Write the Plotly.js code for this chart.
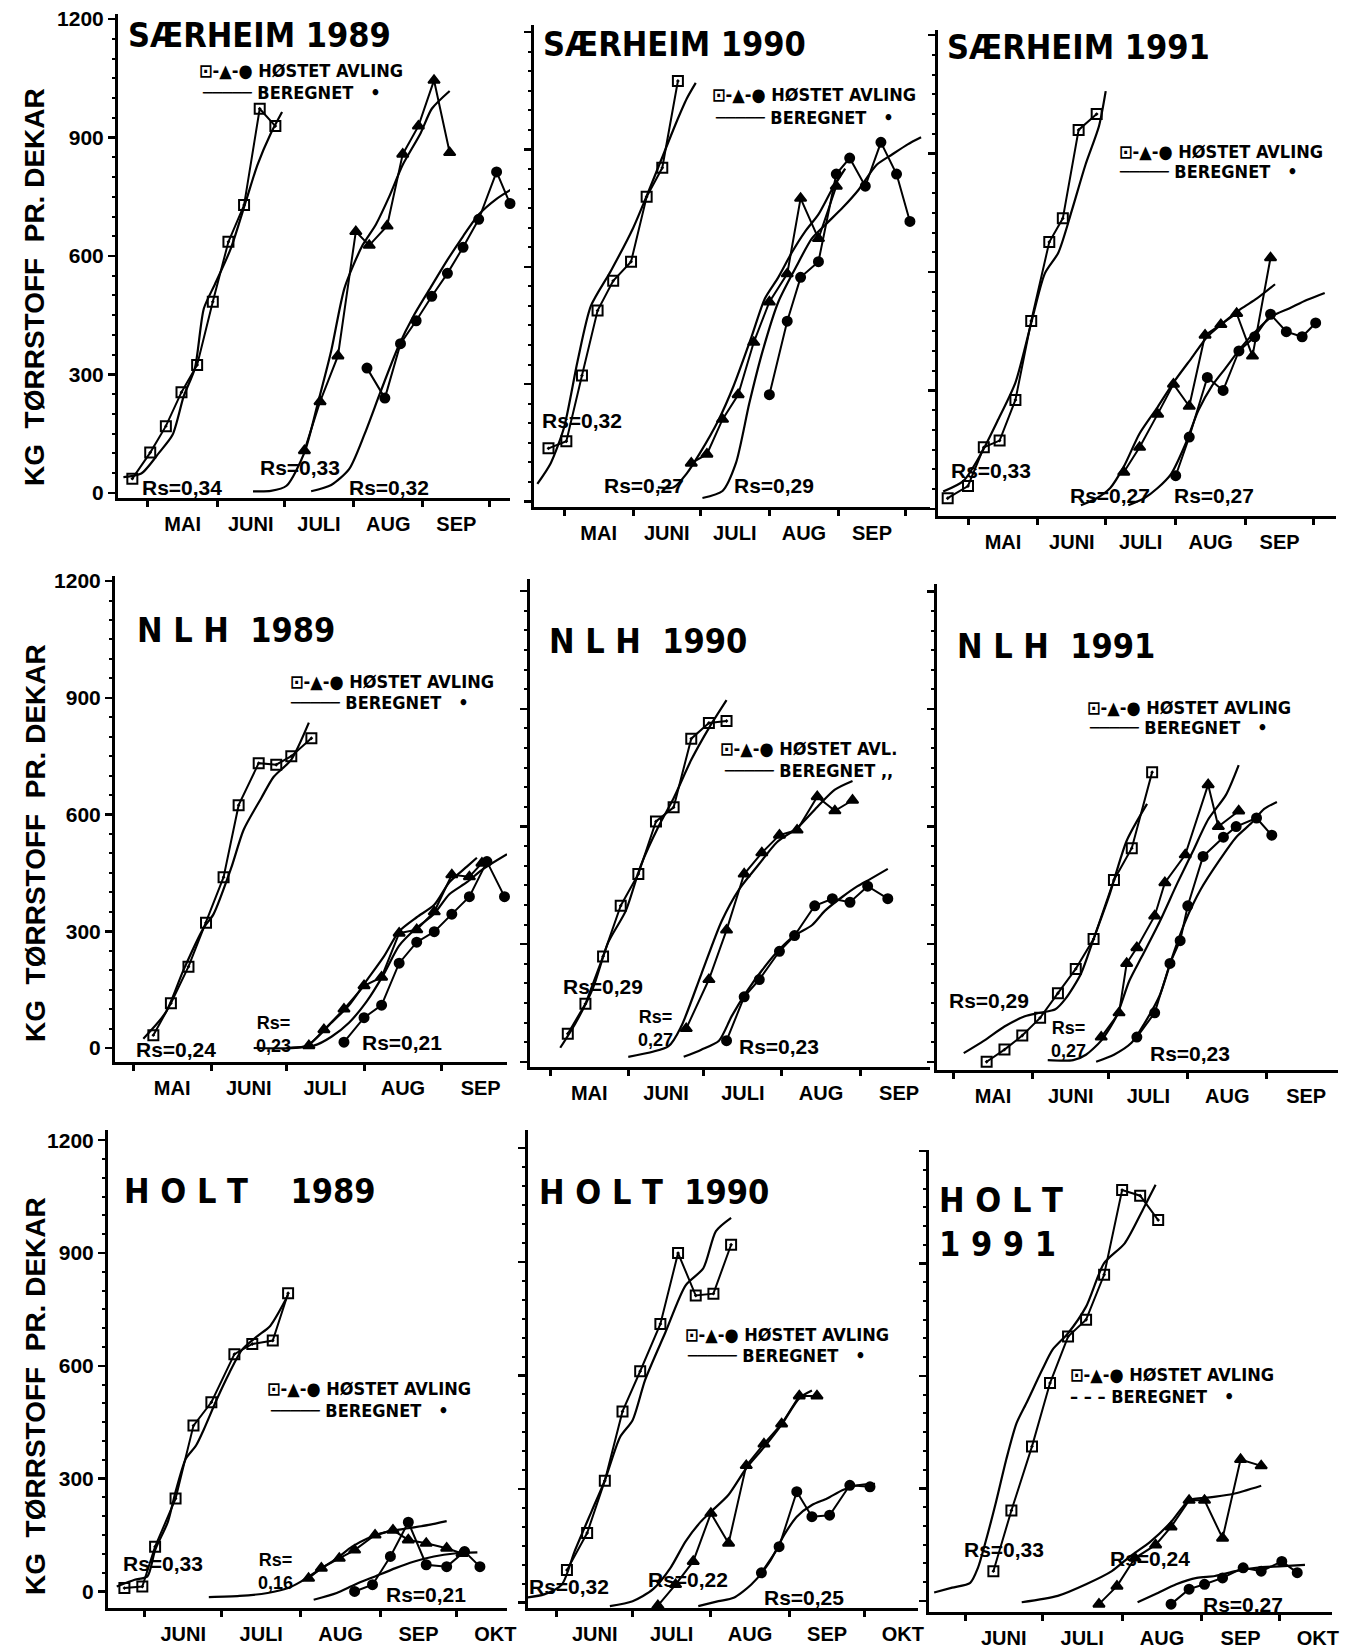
<!DOCTYPE html>
<html><head><meta charset="utf-8">
<script src="https://cdn.plot.ly/plotly-3.0.1.min.js"></script>
<style>html,body{margin:0;padding:0;background:#fff}#chart{width:1349px;height:1652px}</style>
</head><body><div id="chart"></div>
<script>
// ---------------- DATA (date, kg tørrstoff pr. dekar) ----------------
// SÆRHEIM 1989
const S89_sq=[['1989-04-24',36],['1989-05-02',102],['1989-05-09',169],['1989-05-16',255],['1989-05-23',324],['1989-05-30',484],['1989-06-06',636],['1989-06-13',729],['1989-06-20',973],['1989-06-27',929]];
const S89_c1=[['1989-04-20',40],['1989-04-28',49],['1989-05-06',102],['1989-05-12',147],['1989-05-17',245],['1989-05-22',316],['1989-05-26',467],['1989-05-31',529],['1989-06-07',618],['1989-06-14',742],['1989-06-19',831],['1989-06-25',911],['1989-06-30',965]];
const S89_tr=[['1989-07-10',107],['1989-07-17',231],['1989-07-25',347],['1989-08-02',662],['1989-08-08',627],['1989-08-16',676],['1989-08-23',858],['1989-08-30',929],['1989-09-06',1045],['1989-09-13',862]];
const S89_c2=[['1989-06-17',4],['1989-06-25',5],['1989-07-02',18],['1989-07-10',102],['1989-07-16',227],['1989-07-22',360],['1989-07-28',520],['1989-08-05',627],['1989-08-11',680],['1989-08-17',751],['1989-08-23',831],['1989-08-31',911],['1989-09-05',973],['1989-09-13',1018]];
const S89_ci=[['1989-08-07',316],['1989-08-15',240],['1989-08-22',378],['1989-08-29',436],['1989-09-05',498],['1989-09-12',556],['1989-09-19',622],['1989-09-26',693],['1989-10-04',813],['1989-10-10',733]];
const S89_c3=[['1989-07-13',4],['1989-07-22',20],['1989-07-30',60],['1989-08-06',150],['1989-08-13',255],['1989-08-21',370],['1989-08-28',450],['1989-09-05',525],['1989-09-12',590],['1989-09-19',650],['1989-09-26',705],['1989-10-04',745],['1989-10-11',770]];
// SÆRHEIM 1990
const S90_sq=[['1990-04-24',136],['1990-05-02',154],['1990-05-09',322],['1990-05-16',488],['1990-05-23',564],['1990-05-31',613],['1990-06-07',779],['1990-06-14',853],['1990-06-21',1075]];
const S90_c1=[['1990-04-19',45],['1990-04-25',98],['1990-05-01',190],['1990-05-07',358],['1990-05-13',500],['1990-05-22',590],['1990-06-01',700],['1990-06-08',795],['1990-06-14',880],['1990-06-20',965],['1990-06-25',1030],['1990-06-29',1070]];
const S90_tr=[['1990-06-27',98],['1990-07-04',121],['1990-07-11',210],['1990-07-18',273],['1990-07-25',407],['1990-08-01',510],['1990-08-09',582],['1990-08-15',775],['1990-08-23',672],['1990-08-31',806]];
const S90_c2=[['1990-06-12',36],['1990-06-19',36],['1990-06-25',72],['1990-07-01',125],['1990-07-09',206],['1990-07-16',296],['1990-07-24',421],['1990-07-30',519],['1990-08-05',573],['1990-08-11',636],['1990-08-17',690],['1990-08-23',734],['1990-08-29',797],['1990-09-04',851]];
const S90_ci=[['1990-08-01',273],['1990-08-09',461],['1990-08-15',573],['1990-08-23',613],['1990-08-31',837],['1990-09-06',878],['1990-09-13',806],['1990-09-20',918],['1990-09-27',837],['1990-10-03',716]];
const S90_c3=[['1990-07-02',9],['1990-07-11',27],['1990-07-17',98],['1990-07-23',251],['1990-07-29',385],['1990-08-05',510],['1990-08-13',600],['1990-08-20',672],['1990-08-26',707],['1990-09-03',752],['1990-09-10',797],['1990-09-18',860],['1990-09-25',887],['1990-10-02',913],['1990-10-08',931]];
// SÆRHEIM 1991
const S91_sq=[['1991-04-22',27],['1991-05-01',58],['1991-05-08',156],['1991-05-15',173],['1991-05-22',276],['1991-05-29',476],['1991-06-06',676],['1991-06-12',736],['1991-06-19',960],['1991-06-27',1000]];
const S91_c1=[['1991-04-20',44],['1991-04-29',71],['1991-05-07',142],['1991-05-14',222],['1991-05-22',320],['1991-05-29',471],['1991-06-04',596],['1991-06-10',649],['1991-06-16',756],['1991-06-22',871],['1991-06-28',969],['1991-07-01',1058]];
const S91_tr=[['1991-07-09',93],['1991-07-16',156],['1991-07-24',240],['1991-07-31',316],['1991-08-07',260],['1991-08-14',440],['1991-08-21',467],['1991-08-28',495],['1991-09-04',387],['1991-09-12',636]];
const S91_c2=[['1991-06-20',9],['1991-06-27',27],['1991-07-03',53],['1991-07-09',107],['1991-07-16',191],['1991-07-24',258],['1991-07-31',320],['1991-08-08',382],['1991-08-15',436],['1991-08-22',471],['1991-08-30',507],['1991-09-06',533],['1991-09-14',569]];
const S91_ci=[['1991-08-01',84],['1991-08-07',182],['1991-08-15',333],['1991-08-22',300],['1991-08-29',400],['1991-09-05',436],['1991-09-12',493],['1991-09-19',449],['1991-09-26',436],['1991-10-02',471]];
const S91_c3=[['1991-07-11',9],['1991-07-18',27],['1991-07-24',53],['1991-07-30',89],['1991-08-05',160],['1991-08-11',249],['1991-08-17',311],['1991-08-23',356],['1991-08-30',409],['1991-09-06',453],['1991-09-13',489],['1991-09-20',507],['1991-09-28',529],['1991-10-06',547]];
// NLH 1989
const N89_sq=[['1989-05-09',33],['1989-05-16',115],['1989-05-23',209],['1989-05-30',322],['1989-06-06',439],['1989-06-12',624],['1989-06-20',732],['1989-06-27',728],['1989-07-03',750],['1989-07-11',796]];
const N89_c1=[['1989-05-05',24],['1989-05-14',92],['1989-05-21',200],['1989-05-29',308],['1989-06-02',344],['1989-06-09',462],['1989-06-14',561],['1989-06-21',642],['1989-06-26',697],['1989-07-03',741],['1989-07-10',836]];
const N89_tr=[['1989-07-10',6],['1989-07-16',47],['1989-07-24',100],['1989-08-01',160],['1989-08-08',182],['1989-08-15',295],['1989-08-22',304],['1989-08-29',350],['1989-09-05',445],['1989-09-12',440],['1989-09-17',475]];
const N89_c2=[['1989-06-18',0],['1989-07-09',6],['1989-07-19',65],['1989-07-26',110],['1989-08-02',173],['1989-08-09',236],['1989-08-15',300],['1989-08-22',336],['1989-08-29',368],['1989-09-04',426],['1989-09-11',466],['1989-09-15',489]];
const N89_ci=[['1989-07-24',15],['1989-08-01',78],['1989-08-08',110],['1989-08-15',218],['1989-08-22',272],['1989-08-29',299],['1989-09-05',344],['1989-09-12',389],['1989-09-19',479],['1989-09-26',389]];
const N89_c3=[['1989-07-01',0],['1989-07-12',6],['1989-07-19',29],['1989-07-26',65],['1989-08-02',119],['1989-08-09',191],['1989-08-15',263],['1989-08-22',309],['1989-08-29',345],['1989-09-04',395],['1989-09-11',426],['1989-09-17',458],['1989-09-27',498]];
// NLH 1990
const N90_sq=[['1990-05-08',72],['1990-05-15',148],['1990-05-22',269],['1990-05-29',398],['1990-06-05',479],['1990-06-12',613],['1990-06-19',649],['1990-06-26',824],['1990-07-03',864],['1990-07-10',869]];
const N90_c1=[['1990-05-05',36],['1990-05-11',98],['1990-05-18',188],['1990-05-24',304],['1990-05-31',385],['1990-06-06',501],['1990-06-13',600],['1990-06-19',672],['1990-06-26',770],['1990-07-03',851],['1990-07-10',922]];
const N90_tr=[['1990-06-24',85],['1990-07-03',210],['1990-07-10',336],['1990-07-17',479],['1990-07-24',533],['1990-07-31',578],['1990-08-07',591],['1990-08-15',676],['1990-08-22',640],['1990-08-29',667]];
const N90_c2=[['1990-06-01',13],['1990-06-17',40],['1990-06-22',90],['1990-06-30',224],['1990-07-08',358],['1990-07-15',440],['1990-07-23',505],['1990-07-30',560],['1990-08-07',596],['1990-08-15',650],['1990-08-22',694],['1990-08-29',716]];
const N90_ci=[['1990-07-10',54],['1990-07-17',166],['1990-07-23',210],['1990-07-31',282],['1990-08-06',322],['1990-08-14',398],['1990-08-21',416],['1990-08-28',407],['1990-09-04',448],['1990-09-12',416]];
const N90_c3=[['1990-06-23',13],['1990-06-30',31],['1990-07-07',54],['1990-07-12',116],['1990-07-18',179],['1990-07-24',233],['1990-07-31',287],['1990-08-06',322],['1990-08-13',349],['1990-08-18',385],['1990-08-25',421],['1990-08-31',448],['1990-09-05',466],['1990-09-12',492]];
// NLH 1991
const N91_sq=[['1991-05-14',0],['1991-05-21',31],['1991-05-28',67],['1991-06-04',112],['1991-06-11',175],['1991-06-18',237],['1991-06-25',313],['1991-07-03',464],['1991-07-10',545],['1991-07-18',739]];
const N91_c1=[['1991-05-05',22],['1991-05-13',54],['1991-05-21',90],['1991-05-29',116],['1991-06-04',125],['1991-06-10',134],['1991-06-14',161],['1991-06-20',224],['1991-06-25',313],['1991-07-01',421],['1991-07-08',564],['1991-07-16',658]];
const N91_tr=[['1991-06-28',63],['1991-07-05',125],['1991-07-08',251],['1991-07-12',291],['1991-07-19',372],['1991-07-23',457],['1991-07-31',528],['1991-08-09',707],['1991-08-13',600],['1991-08-21',640]];
const N91_c2=[['1991-06-07',4],['1991-06-17',4],['1991-06-22',18],['1991-06-28',54],['1991-07-04',116],['1991-07-09',206],['1991-07-14',269],['1991-07-21',358],['1991-07-28',457],['1991-08-03',537],['1991-08-09',618],['1991-08-16',681],['1991-08-21',757]];
const N91_ci=[['1991-07-12',63],['1991-07-19',125],['1991-07-25',251],['1991-07-29',309],['1991-08-01',398],['1991-08-07',524],['1991-08-15',573],['1991-08-20',600],['1991-08-28',622],['1991-09-03',578]];
const N91_c3=[['1991-06-26',0],['1991-07-03',18],['1991-07-10',49],['1991-07-15',98],['1991-07-21',170],['1991-07-26',269],['1991-07-31',358],['1991-08-06',439],['1991-08-13',510],['1991-08-20',573],['1991-08-26',609],['1991-08-31',645],['1991-09-05',663]];
// HOLT 1989
const H89_sq=[['1989-05-24',9],['1989-05-31',13],['1989-06-05',119],['1989-06-13',247],['1989-06-20',441],['1989-06-27',503],['1989-07-06',631],['1989-07-13',658],['1989-07-21',667],['1989-07-27',793]];
const H89_c1=[['1989-05-21',13],['1989-05-28',31],['1989-06-02',40],['1989-06-05',110],['1989-06-10',185],['1989-06-13',265],['1989-06-17',353],['1989-06-21',388],['1989-06-24',430],['1989-06-29',509],['1989-07-04',581],['1989-07-09',643],['1989-07-15',679],['1989-07-20',706],['1989-07-27',788]];
const H89_tr=[['1989-08-04',35],['1989-08-09',62],['1989-08-16',88],['1989-08-22',110],['1989-08-30',150],['1989-09-06',163],['1989-09-12',137],['1989-09-19',128],['1989-09-27',115],['1989-10-03',101]];
const H89_c2=[['1989-06-26',-15],['1989-07-08',-12],['1989-07-19',-4],['1989-07-27',9],['1989-08-01',26],['1989-08-08',57],['1989-08-15',88],['1989-08-21',119],['1989-08-27',141],['1989-09-04',159],['1989-09-12',168],['1989-09-20',177],['1989-09-27',187]];
const H89_ci=[['1989-08-22',0],['1989-08-29',18],['1989-09-05',93],['1989-09-12',184],['1989-09-19',71],['1989-09-27',66],['1989-10-04',106],['1989-10-10',66]];
const H89_c3=[['1989-08-06',-22],['1989-08-15',-4],['1989-08-22',18],['1989-08-30',40],['1989-09-07',62],['1989-09-14',79],['1989-09-22',93],['1989-09-30',101],['1989-10-09',104]];
// HOLT 1990
const H90_sq=[['1990-06-05',86],['1990-06-13',184],['1990-06-20',322],['1990-06-27',505],['1990-07-04',611],['1990-07-12',736],['1990-07-19',923],['1990-07-26',811],['1990-08-02',816],['1990-08-09',945]];
const H90_c1=[['1990-05-19',13],['1990-05-27',22],['1990-06-03',48],['1990-06-08',135],['1990-06-15',245],['1990-06-20',323],['1990-06-26',437],['1990-07-01',482],['1990-07-06',589],['1990-07-14',714],['1990-07-22',838],['1990-07-29',883],['1990-08-03',981],['1990-08-09',1016]];
const H90_tr=[['1990-07-11',-8],['1990-07-18',48],['1990-07-25',109],['1990-08-01',236],['1990-08-08',157],['1990-08-15',362],['1990-08-22',419],['1990-08-29',472],['1990-09-05',546],['1990-09-12',546]];
const H90_c2=[['1990-06-22',-9],['1990-07-01',4],['1990-07-09',35],['1990-07-16',92],['1990-07-22',162],['1990-07-28',214],['1990-08-01',240],['1990-08-08',285],['1990-08-15',355],['1990-08-22',410],['1990-08-29',470],['1990-09-05',540],['1990-09-10',560]];
const H90_ci=[['1990-08-21',79],['1990-08-28',148],['1990-09-04',293],['1990-09-10',227],['1990-09-17',231],['1990-09-25',310],['1990-10-03',306]];
const H90_c3=[['1990-07-27',-9],['1990-08-04',4],['1990-08-10',13],['1990-08-17',48],['1990-08-24',105],['1990-08-30',179],['1990-09-04',227],['1990-09-10',258],['1990-09-16',275],['1990-09-22',297],['1990-09-28',310],['1990-10-05',314]];
// HOLT 1991
const H91_sq=[['1991-06-12',79],['1991-06-19',241],['1991-06-27',412],['1991-07-04',581],['1991-07-11',705],['1991-07-18',750],['1991-07-25',870],['1991-08-01',1096],['1991-08-08',1081],['1991-08-15',1016]];
const H91_c1=[['1991-05-20',22],['1991-05-27',35],['1991-06-03',48],['1991-06-06',88],['1991-06-09',158],['1991-06-13',263],['1991-06-17',377],['1991-06-21',474],['1991-06-25',530],['1991-07-01',617],['1991-07-05',670],['1991-07-11',714],['1991-07-18',785],['1991-07-25',901],['1991-08-02',954],['1991-08-09',1043],['1991-08-14',1110]];
const H91_tr=[['1991-07-23',-9],['1991-07-30',39],['1991-08-06',114],['1991-08-14',149],['1991-08-20',197],['1991-08-27',268],['1991-09-02',268],['1991-09-09',167],['1991-09-16',377],['1991-09-24',360]];
const H91_c2=[['1991-06-23',-4],['1991-07-07',13],['1991-07-18',44],['1991-07-28',79],['1991-08-04',118],['1991-08-12',158],['1991-08-20',210],['1991-08-27',268],['1991-09-04',276],['1991-09-13',285],['1991-09-24',307]];
const H91_ci=[['1991-08-20',-9],['1991-08-27',31],['1991-09-02',44],['1991-09-09',61],['1991-09-17',88],['1991-09-24',79],['1991-10-02',105],['1991-10-08',75]];
const H91_c3=[['1991-08-07',-4],['1991-08-14',18],['1991-08-22',44],['1991-08-30',61],['1991-09-06',66],['1991-09-14',79],['1991-09-22',88],['1991-10-01',92],['1991-10-11',96]];

// Rs labels (date, value, text)
const RS_S89=[['1989-05-16',13,'Rs=0,34'],['1989-07-08',63,'Rs=0,33'],['1989-08-17',13,'Rs=0,32']];
const RS_S90=[['1990-05-09',206,'Rs=0,32'],['1990-06-06',40,'Rs=0,27'],['1990-08-03',40,'Rs=0,29']];
const RS_S91=[['1991-05-11',98,'Rs=0,33'],['1991-07-03',35,'Rs=0,27'],['1991-08-18',35,'Rs=0,27']];
const RS_N89=[['1989-05-18',-5,'Rs=0,24'],['1989-06-26',35,'Rs=<br>0,23'],['1989-08-16',13,'Rs=0,21']];
const RS_N90=[['1990-05-22',192,'Rs=0,29'],['1990-06-12',85,'Rs=<br>0,27'],['1990-07-31',40,'Rs=0,23']];
const RS_N91=[['1991-05-15',157,'Rs=0,29'],['1991-06-15',56,'Rs=<br>0,27'],['1991-08-02',22,'Rs=0,23']];
const RS_H89=[['1989-06-08',75,'Rs=0,33'],['1989-07-22',53,'Rs=<br>0,16'],['1989-09-19',-9,'Rs=0,21']];
const RS_H90=[['1990-06-06',44,'Rs=0,32'],['1990-07-23',62,'Rs=0,22'],['1990-09-07',13,'Rs=0,25']];
const RS_H91=[['1991-06-16',136,'Rs=0,33'],['1991-08-12',114,'Rs=0,24'],['1991-09-17',-9,'Rs=0,27']];

const NB='\u00A0';
const TITLES=['SÆRHEIM 1989','SÆRHEIM 1990','SÆRHEIM 1991',
  'N'+NB+'L'+NB+'H'+NB+NB+'1989','N'+NB+'L'+NB+'H'+NB+NB+'1990','N'+NB+'L'+NB+'H'+NB+NB+'1991',
  'H'+NB+'O'+NB+'L'+NB+'T'+NB+NB+NB+NB+'1989','H'+NB+'O'+NB+'L'+NB+'T'+NB+NB+'1990','H'+NB+'O'+NB+'L'+NB+'T'];
const TITLE2_H91='1'+NB+'9'+NB+'9'+NB+'1';
const OBS_SYM='⊡-▲-●';
const LEG_OBS=['HØSTET AVLING','HØSTET AVLING','HØSTET AVLING','HØSTET AVLING','HØSTET AVL.','HØSTET AVLING','HØSTET AVLING','HØSTET AVLING','HØSTET AVLING'];
const LEG_LINE=['─────','─────','─────','─────','─────','─────','─────','─────','–'+NB+'–'+NB+'–'];
const LEG_CALC=['BEREGNET'+NB+NB+NB+'•','BEREGNET'+NB+NB+NB+'•','BEREGNET'+NB+NB+NB+'•','BEREGNET'+NB+NB+NB+'•','BEREGNET ,,','BEREGNET'+NB+NB+NB+'•','BEREGNET'+NB+NB+NB+'•','BEREGNET'+NB+NB+NB+'•','BEREGNET'+NB+NB+NB+'•'];
const Y_TITLE='KG'+NB+NB+'TØRRSTOFF'+NB+NB+'PR.'+NB+'DEKAR';
const Y_TICKS=[0,300,600,900,1200];
const MONTHS_NB=['JAN','FEB','MAR','APR','MAI','JUNI','JULI','AUG','SEP','OKT','NOV','DES'];

// ---------------- LAYOUT CONFIG (pixel geometry) ----------------
const W=1349,H=1652;
const PANELS=[
 {d:[S89_sq,S89_tr,S89_ci,S89_c1,S89_c2,S89_c3],rs:RS_S89,xr:['1989-04-17 14:00','1989-10-10'],yr:[-13,1213],xp:[118,510],yp:[14,498],t0:'1989-05-01',lab:true,tp:[126,35],lg:[[197,70],[200,92]]},
 {d:[S90_sq,S90_tr,S90_ci,S90_c1,S90_c2,S90_c3],rs:RS_S90,xr:['1990-04-17 12:00','1990-10-12'],yr:[-14,1218],xp:[534,930],yp:[25,507],t0:'1990-05-01',lab:false,tp:[541,44],lg:[[710,94],[713,117]]},
 {d:[S91_sq,S91_tr,S91_ci,S91_c1,S91_c2,S91_c3],rs:RS_S91,xr:['1991-04-17 17:00','1991-10-11'],yr:[-18,1213],xp:[938,1336],yp:[30,516],t0:'1991-05-01',lab:false,tp:[945,47],lg:[[1117,151],[1117,172]]},
 {d:[N89_sq,N89_tr,N89_ci,N89_c1,N89_c2,N89_c3],rs:RS_N89,xr:['1989-04-23 17:00','1989-09-27'],yr:[-36,1213],xp:[115,507],yp:[576,1062],t0:'1989-05-01',lab:true,tp:[135,630],lg:[[288,681],[288,702]]},
 {d:[N90_sq,N90_tr,N90_ci,N90_c1,N90_c2,N90_c3],rs:RS_N90,xr:['1990-04-23','1990-09-28 18:00'],yr:[-13,1231],xp:[530,930],yp:[579,1067],t0:'1990-05-01',lab:false,tp:[547,641],lg:[[718,748],[722,770]]},
 {d:[N91_sq,N91_tr,N91_ci,N91_c1,N91_c2,N91_c3],rs:RS_N91,xr:['1991-04-24 12:00','1991-09-29'],yr:[-21,1219],xp:[937,1338],yp:[584,1070],t0:'1991-05-01',lab:false,tp:[955,646],lg:[[1085,707],[1087,728]]},
 {d:[H89_sq,H89_tr,H89_ci,H89_c1,H89_c2,H89_c3],rs:RS_H89,xr:['1989-05-17 14:00','1989-10-20 14:00'],yr:[-44,1227],xp:[108,507],yp:[1130,1608],t0:'1989-06-01',lab:true,tp:[122,1191],lg:[[265,1388],[268,1410]]},
 {d:[H90_sq,H90_tr,H90_ci,H90_c1,H90_c2,H90_c3],rs:RS_H90,xr:['1990-05-20 14:00','1990-10-22'],yr:[-14,1248],xp:[528,918],yp:[1130,1608],t0:'1990-06-01',lab:false,tp:[537,1192],lg:[[683,1334],[685,1355]]},
 {d:[H91_sq,H91_tr,H91_ci,H91_c1,H91_c2,H91_c3],rs:RS_H91,xr:['1991-05-18','1991-10-21 12:00'],yr:[-30,1203],xp:[929,1332],yp:[1150,1612],t0:'1991-06-01',lab:false,tp:[937,1200],lg:[[1068,1374],[1068,1396]]}
];
const YT_POS=[[35,287],[35,843],[35,1396]];

const F_HEAVY='"DejaVu Sans Condensed", "DejaVu Sans", sans-serif';
const F_SANS='"Liberation Sans", Arial, sans-serif';
const BLACK='#000';

try{
  Plotly.register({moduleType:'locale',name:'nb',dictionary:{},format:{
    days:['søndag','mandag','tirsdag','onsdag','torsdag','fredag','lørdag'],
    shortDays:['søn','man','tir','ons','tor','fre','lør'],
    months:['januar','februar','mars','april','mai','juni','juli','august','september','oktober','november','desember'],
    shortMonths:MONTHS_NB,
    periods:['AM','PM'],dateTime:'%a %b %e %X %Y',date:'%d.%m.%Y',time:'%H:%M:%S',
    decimal:',',thousands:' ',grouping:[3],currency:['kr ',''],
    year:'%Y',month:'%b %Y',dayMonth:'%b %-d',dayMonthYear:'%b %-d, %Y'}});
}catch(e){}

const px2x=p=>p/W, py2y=p=>1-p/H;
const data=[];
const layout={width:W,height:H,margin:{l:0,r:0,t:0,b:0},paper_bgcolor:'#fff',plot_bgcolor:'rgba(0,0,0,0)',showlegend:false,annotations:[]};
const ann=(x,y,text,font,extra)=>Object.assign({xref:'paper',yref:'paper',x:px2x(x),y:py2y(y),xanchor:'left',yanchor:'middle',text:text,showarrow:false,font:font},extra||{});

PANELS.forEach((p,i)=>{
  const s=i===0?'':String(i+1);
  const xa='x'+s, ya='y'+s;
  const xs=arr=>arr.map(v=>v[0]), ys=arr=>arr.map(v=>v[1]);
  const calc=arr=>({type:'scatter',mode:'lines',x:xs(arr),y:ys(arr),xaxis:xa,yaxis:ya,
      line:{color:BLACK,width:2.2,shape:'spline',smoothing:0.7},hoverinfo:'skip',cliponaxis:false});
  const obs=(arr,sym,size)=>({type:'scatter',mode:'lines+markers',x:xs(arr),y:ys(arr),xaxis:xa,yaxis:ya,
      line:{color:BLACK,width:2},marker:{symbol:sym,size:size,color:BLACK,line:{color:BLACK,width:2}},hoverinfo:'skip',cliponaxis:false});
  const [sq,tr,ci,c1,c2,c3]=p.d;
  data.push(calc(c1),calc(c2),calc(c3),obs(sq,'square-open-dot',10),obs(tr,'triangle-up',10),obs(ci,'circle',9));

  layout['xaxis'+s]={type:'date',domain:[px2x(p.xp[0]),px2x(p.xp[1])],range:p.xr,anchor:ya,
    showline:true,linecolor:BLACK,linewidth:3,ticks:'outside',ticklen:6,tickwidth:3,tickcolor:BLACK,
    tick0:p.t0,dtick:'M1',tickformat:'%b',ticklabelmode:'period',
    tickfont:{family:F_SANS,size:20,color:BLACK,weight:'bold'},showgrid:false,zeroline:false,fixedrange:true};
  layout['yaxis'+s]={domain:[py2y(p.yp[1]),py2y(p.yp[0])],range:p.yr,anchor:xa,
    showline:true,linecolor:BLACK,linewidth:3,ticks:'outside',ticklen:7,tickwidth:2.5,tickcolor:BLACK,
    tickmode:'array',tickvals:Y_TICKS,showticklabels:p.lab,
    tickfont:{family:F_SANS,size:21,color:BLACK,weight:'bold'},
    minor:{dtick:50,tick0:0,ticks:'outside',ticklen:3,tickwidth:2,tickcolor:BLACK},
    showgrid:false,zeroline:false,fixedrange:true};

  const fTitle={family:F_HEAVY,size:34,color:BLACK,weight:'bold'};
  const fLeg={family:F_HEAVY,size:18,color:BLACK,weight:'bold'};
  layout.annotations.push(ann(p.tp[0],p.tp[1],TITLES[i],fTitle));
  layout.annotations.push(ann(p.lg[0][0],p.lg[0][1],OBS_SYM+' '+LEG_OBS[i],fLeg));
  layout.annotations.push(ann(p.lg[1][0],p.lg[1][1],LEG_LINE[i]+' '+LEG_CALC[i],fLeg));
  p.rs.forEach(r=>{
    const two=r[2].indexOf('<br>')>=0;
    layout.annotations.push({xref:xa,yref:ya,x:r[0],y:r[1],xanchor:'center',yanchor:'middle',text:r[2],showarrow:false,
      font:{family:F_SANS,size:two?18:21,color:BLACK,weight:'bold'}});
  });
});
layout.annotations.push(ann(937,1244,TITLE2_H91,{family:F_HEAVY,size:34,color:BLACK,weight:'bold'}));
YT_POS.forEach(pp=>{
  layout.annotations.push(ann(pp[0],pp[1],Y_TITLE,{family:F_SANS,size:28,color:BLACK,weight:'bold'},{xanchor:'center',textangle:-90}));
});

Plotly.newPlot('chart',data,layout,{staticPlot:true,displayModeBar:false,locale:'nb'});
</script></body></html>
